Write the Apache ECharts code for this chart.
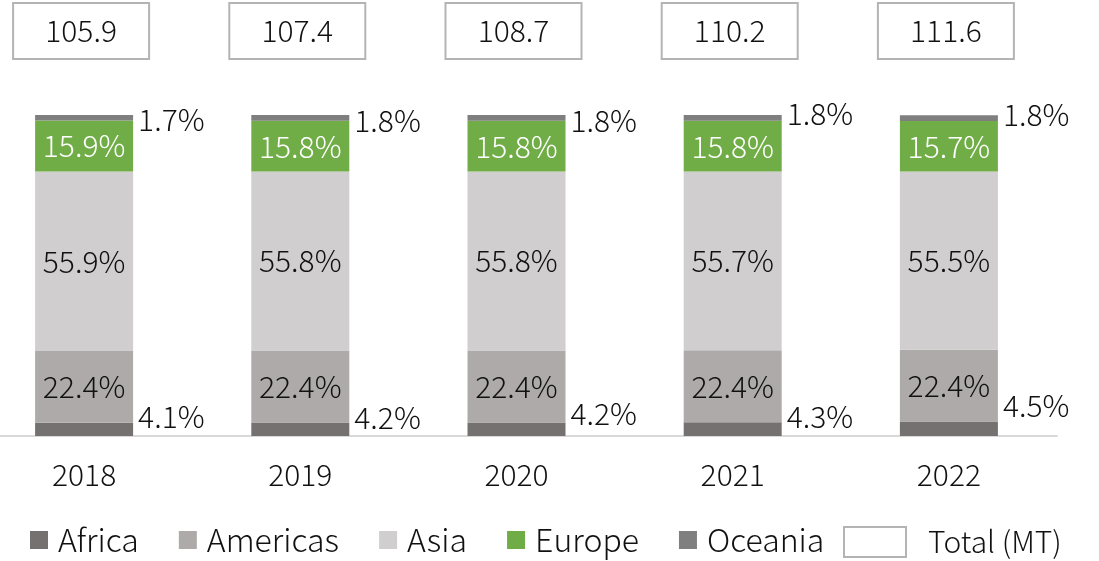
<!DOCTYPE html>
<html><head><meta charset="utf-8">
<script src="https://cdn.jsdelivr.net/npm/echarts@6/dist/echarts.min.js"></script>
<style>html,body{margin:0;padding:0;background:#fff}#c{width:1099px;height:561px}</style>
</head><body><div id="c"></div>
<script>
const years = ['2018','2019','2020','2021','2022'];
const africa   = [4.1, 4.2, 4.2, 4.3, 4.5];
const americas = [22.4, 22.4, 22.4, 22.4, 22.4];
const asia     = [55.9, 55.8, 55.8, 55.7, 55.5];
const europe   = [15.9, 15.8, 15.8, 15.8, 15.7];
const oceania  = [1.7, 1.8, 1.8, 1.8, 1.8];
const totals   = [105.9, 107.4, 108.7, 110.2, 111.6];

const FONT = '"Noto Sans CJK JP", "Noto Sans", sans-serif';
const TXT = '#111';
const FS = 30;
const FW = 300;
// label vertical nudges (layout only)
const africaShift = [-13, -12, -16, -13, -23];
const oceaniaShift = [2, 3, 3, -4, -4];

const pct = v => v.toFixed(1) + '%';
const barW = 98;

function stackSeries(name, data, color, labelCfg) {
  return {
    name, type: 'bar', stack: 'share', xAxisIndex: 0, yAxisIndex: 0,
    barWidth: barW, data: data.map((v, i) => {
      const item = { value: v };
      if (labelCfg.shift) item.label = { offset: [0, labelCfg.shift[i]] };
      return item;
    }),
    itemStyle: { color },
    label: Object.assign({ show: true, formatter: p => pct(p.value), fontFamily: FONT, fontWeight: FW, fontSize: FS, color: TXT }, labelCfg.label)
  };
}

const chart = echarts.init(document.getElementById('c'), null, { renderer: 'canvas' });
chart.setOption({
  animation: false,
  textStyle: { fontFamily: FONT },
  grid: [
    { left: -24, right: 42, top: 115, bottom: 125, outerBoundsMode: 'none', containLabel: false },
    { left: -24, right: 42, top: 0, height: 59, outerBoundsMode: 'none', containLabel: false }
  ],
  xAxis: [
    { type: 'category', gridIndex: 0, data: years,
      axisLine: { lineStyle: { color: '#d9d9d9', width: 2 } }, axisTick: { show: false },
      axisLabel: { fontFamily: FONT, fontWeight: FW, fontSize: FS, color: TXT, margin: 24 } },
    { type: 'category', gridIndex: 1, data: years, show: false }
  ],
  yAxis: [
    { type: 'value', gridIndex: 0, min: 0, max: 100, show: false, splitLine: { show: false } },
    { type: 'value', gridIndex: 1, min: 0, show: false, splitLine: { show: false } }
  ],
  legend: [
    { data: ['Africa', 'Americas', 'Asia', 'Europe', 'Oceania'],
      left: 25, top: 519, itemWidth: 18, itemHeight: 18, itemGap: 40, icon: 'rect',
      textStyle: { fontFamily: FONT, fontWeight: FW, fontSize: 32, color: TXT, padding: [0, 0, 0, 5] } },
    { data: [{ name: 'Total (MT)', icon: 'rect', itemStyle: { color: '#fff', borderColor: '#b4b4b4', borderWidth: 2 } }],
      left: 838, top: 521, itemWidth: 62, itemHeight: 30,
      textStyle: { fontFamily: FONT, fontWeight: FW, fontSize: 30, color: TXT, padding: [0, 0, 0, 17] } }
  ],
  series: [
    stackSeries('Africa', africa, '#767171', { shift: africaShift, label: { position: 'right', distance: 5 } }),
    stackSeries('Americas', americas, '#aeaaaa', { label: { position: 'inside' } }),
    stackSeries('Asia', asia, '#d0cece', { label: { position: 'inside' } }),
    stackSeries('Europe', europe, '#70ad47', { label: { position: 'inside', color: '#fff' } }),
    stackSeries('Oceania', oceania, '#7f7f7f', { shift: oceaniaShift, label: { position: 'right', distance: 5 } }),
    { name: 'Total (MT)', type: 'bar', xAxisIndex: 1, yAxisIndex: 1, barWidth: barW,
      data: totals, itemStyle: { color: 'rgba(0,0,0,0)' },
      label: { show: true, position: 'insideBottom', distance: 1, offset: [-3, 0],
        formatter: p => p.value.toFixed(1), fontFamily: FONT, fontWeight: FW, fontSize: FS, color: TXT,
        width: 134, height: 54, lineHeight: 54, align: 'center',
        borderColor: '#b4b4b4', borderWidth: 2, backgroundColor: '#fff', padding: 0 } }
  ]
});
</script></body></html>
